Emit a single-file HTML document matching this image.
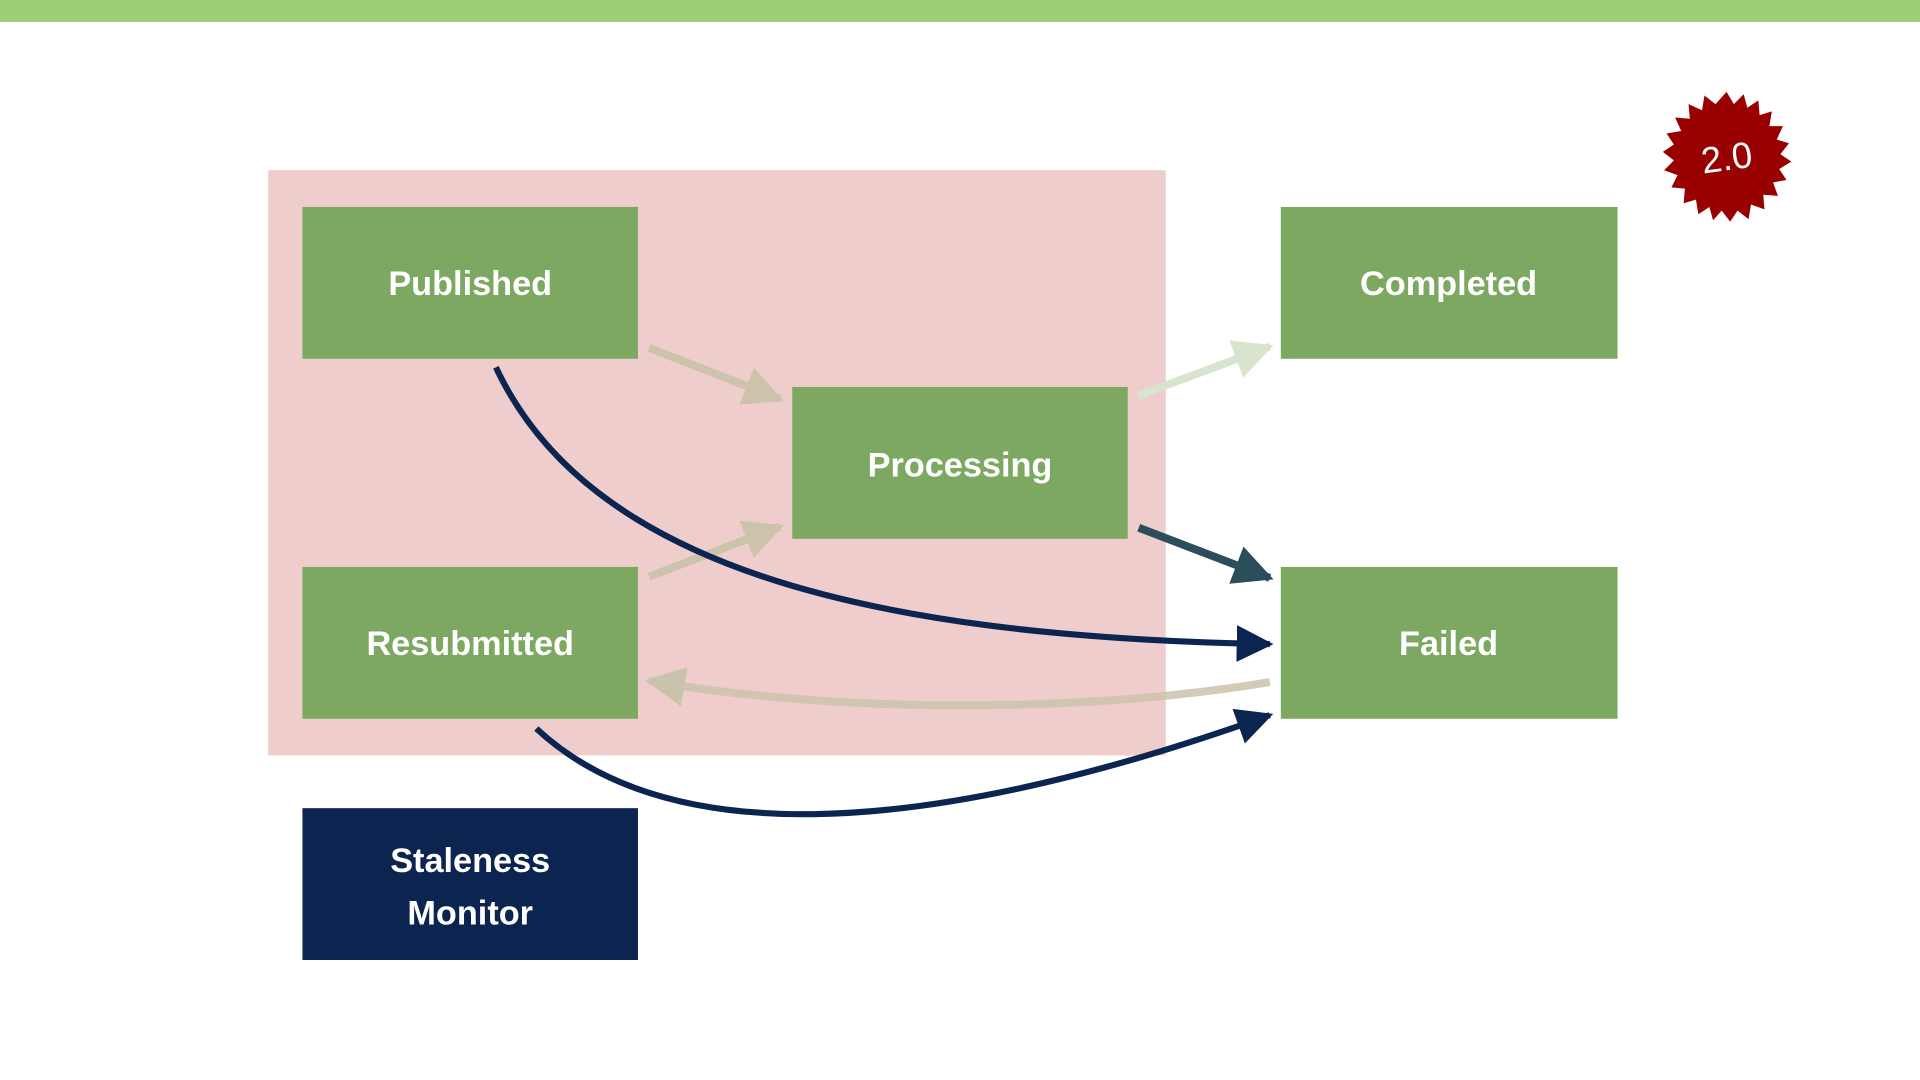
<!DOCTYPE html>
<html><head><meta charset="utf-8"><style>
html,body{margin:0;padding:0;background:#fff;}
svg{display:block}
text{font-family:"Liberation Sans",sans-serif;font-weight:bold;fill:#fff;text-anchor:middle}
</style></head><body>
<svg width="1920" height="1080" viewBox="0 0 1568 882" xmlns="http://www.w3.org/2000/svg">
<defs>
<marker id="tan" viewBox="0 0 10 10" refX="9" refY="5" markerWidth="5" markerHeight="5" orient="auto" markerUnits="strokeWidth"><path d="M0,0 L10,5 L0,10 z" fill="#cdc2aa"/></marker>
<marker id="lg" viewBox="0 0 10 10" refX="9" refY="5" markerWidth="5" markerHeight="5" orient="auto" markerUnits="strokeWidth"><path d="M0,0 L10,5 L0,10 z" fill="#d9e4cf"/></marker>
<marker id="tl" viewBox="0 0 10 10" refX="9" refY="5" markerWidth="5" markerHeight="5" orient="auto" markerUnits="strokeWidth"><path d="M0,0 L10,5 L0,10 z" fill="#2b4e5a"/></marker>
<marker id="nv" viewBox="0 0 10 10" refX="9" refY="5" markerWidth="6" markerHeight="6" orient="auto" markerUnits="strokeWidth"><path d="M0,0 L10,5 L0,10 z" fill="#0c2550"/></marker>
<marker id="bk" viewBox="0 0 10 10" refX="9" refY="5" markerWidth="5" markerHeight="5" orient="auto" markerUnits="strokeWidth"><path d="M0,0 L10,5 L0,10 z" fill="#cbc2ab"/></marker>
</defs>
<rect x="0" y="0" width="1568" height="18" fill="#9ccf78"/>
<rect x="219" y="139" width="733" height="478" fill="#efcdcd"/>

<rect x="247" y="169" width="274" height="124" fill="#7da861"/>
<rect x="647" y="316" width="274" height="124" fill="#7da861"/>
<rect x="1046" y="169" width="275" height="124" fill="#7da861"/>
<rect x="247" y="463" width="274" height="124" fill="#7da861"/>
<rect x="1046" y="463" width="275" height="124" fill="#7da861"/>
<rect x="247" y="660" width="274" height="124" fill="#0c2550"/>

<text x="384" y="241" font-size="28">Published</text>
<text x="784" y="389" font-size="28">Processing</text>
<text x="1183" y="241" font-size="28">Completed</text>
<text x="384" y="535" font-size="28">Resubmitted</text>
<text x="1183" y="535" font-size="28">Failed</text>
<text x="384" y="712" font-size="28">Staleness</text>
<text x="384" y="755" font-size="28">Monitor</text>

<g fill="none" stroke-width="6.5">
<path d="M530,284 L637,326" stroke="#cdc2aa" marker-end="url(#tan)"/>
<path d="M530,471 L637,430" stroke="#cdc2aa" marker-end="url(#tan)"/>
<path d="M930,323 L1037,283" stroke="#d9e4cf" marker-end="url(#lg)"/>
<path d="M930,431 L1037,472" stroke="#2b4e5a" marker-end="url(#tl)"/>
<path d="M1037,557 C900,580 700,585 530,556" stroke="#cbc2ab" stroke-opacity="0.85" marker-end="url(#bk)"/>
</g>
<g fill="none" stroke-width="5" stroke="#0c2550">
<path d="M405,300 C480,460 700,520 1037,526" marker-end="url(#nv)"/>
<path d="M438,595 C540,690 740,690 1037,584" marker-end="url(#nv)"/>
</g>

<g transform="translate(1410,128)">
<polygon fill="#990000" points="0,-53 6,-43 14,-51 17,-40 26,-46 27,-34 37,-37 35,-25 46,-25 41,-14 51,-11 44,-2 53,4 43,10 49,19 38,21 42,32 30,31 31,43 20,39 18,51 9,44 3,53 -4,44 -11,52 -14,41 -23,47 -25,35 -35,38 -34,26 -45,25 -40,15 -51,11 -43,3 -52,-4 -43,-10 -49,-19 -37,-21 -42,-32 -30,-31 -31,-43 -20,-38 -18,-50 -9,-43"/>
<text x="0" y="11" font-size="30" font-weight="normal" style="font-weight:normal" transform="rotate(-8)">2.0</text>
</g>
</svg>
</body></html>
